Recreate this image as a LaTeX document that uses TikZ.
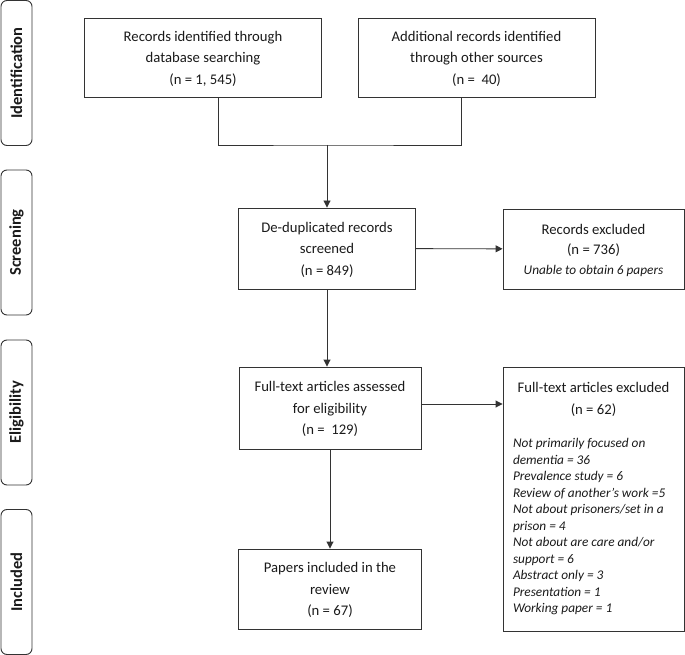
\documentclass[tikz,border=0pt]{standalone}
\usepackage{fontspec}
\setmainfont{Carlito}
\usetikzlibrary{arrows.meta}
\definecolor{linegray}{HTML}{333333}
\definecolor{textgray}{HTML}{1A1A1A}
\tikzset{
        box/.style={draw=linegray, line width=0.9pt, align=center, inner sep=0pt, text=textgray,
                text depth=-1.5pt, font=\fontsize{14.7}{21.5}\selectfont},
        phase/.style={draw=linegray, line width=0.9pt, rounded corners=6pt, rotate=90,
                minimum width=145pt, minimum height=31pt, inner sep=0pt, text=textgray,
                font=\bfseries\fontsize{16.5}{18}\selectfont},
        link/.style={draw=linegray, line width=0.9pt},
        arr/.style={-{Triangle[length=7pt,width=7pt]}}
}

\begin{document}
\begin{tikzpicture}[x=1pt, y=-1pt]
        \useasboundingbox (0,0) rectangle (685,655);

        \node (idtab) [phase] at (16.5,73) {Identification};
        \node (sctab) [phase] at (16.5,242.5) {Screening};
        \node (eltab) [phase] at (16.5,412.5) {Eligibility};
        \node (intab) [phase] at (16.5,582) {Included};

        \node (db) [box, minimum width=237pt, minimum height=79pt] at (203,57.5)
                {Records identified through\\database searching\\(n = 1, 545)};
        \node (other) [box, minimum width=237pt, minimum height=79pt] at (476.5,57.5)
                {Additional records identified\\through other sources\\(n =\ \ 40)};
        \node (dedup) [box, minimum width=177.5pt, minimum height=81pt] at (327,248.5)
                {De-duplicated records\\screened\\(n = 849)};
        \node (recex) [box, minimum width=181pt, minimum height=80pt, font=\fontsize{14.7}{20}\selectfont] at (593.5,249)
                {Records excluded\\(n = 736)\\{\itshape\fontsize{13.3}{20}\selectfont Unable to obtain 6 papers}};
        \node (elig) [box, minimum width=182pt, minimum height=82pt] at (330,408)
                {Full-text articles assessed\\for eligibility\\(n =\ \ 129)};
        \node (incl) [box, minimum width=182.5pt, minimum height=80pt] at (330,589)
                {Papers included in the\\review\\(n = 67)};
        \node (ftex) [box, text depth=, anchor=north, inner xsep=10pt] at (593.5,367) {\begin{minipage}[t][264pt][t]{161pt}
                \vspace*{15pt}
                {\centering Full-text articles excluded\\(n = 62)\par}
                \vspace{17pt}
                {\itshape\fontsize{13.3}{16.5}\selectfont Not primarily focused on\\
                dementia = 36\\
                Prevalence study = 6\\
                Review of another’s work =5\\
                Not about prisoners/set in a\\
                prison = 4\\
                Not about are care and/or\\
                support = 6\\
                Abstract only = 3\\
                Presentation = 1\\
                Working paper = 1\par}
        \end{minipage}};

        \coordinate (merge) at (327,145);
        \draw [link] ([xshift=15pt]db.south) |- (merge) -| ([xshift=-15.5pt]other.south);
        \draw [link, arr] (merge) -- (dedup);
        \draw [link, arr] (dedup) -- (recex);
        \draw [link, arr] (dedup.south) -- (dedup.south |- elig.north);
        \draw [link, arr] ([yshift=4pt]elig.east) -- ([yshift=4pt]elig.east -| ftex.west);
        \draw [link, arr] (elig) -- (incl);
\end{tikzpicture}
\end{document}
